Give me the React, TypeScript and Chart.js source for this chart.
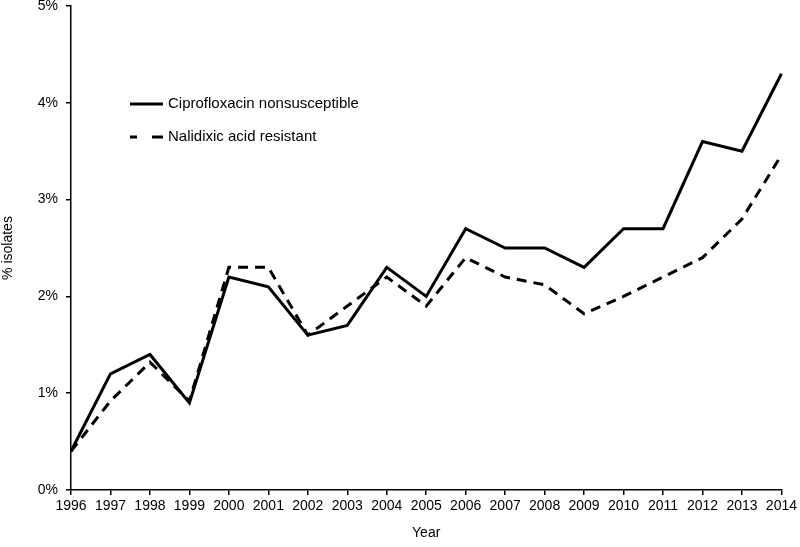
import React, { useEffect, useRef } from "react";
import { Chart, registerables } from "chart.js";

Chart.register(...registerables);

const years = ["1996","1997","1998","1999","2000","2001","2002","2003","2004","2005","2006","2007","2008","2009","2010","2011","2012","2013","2014"];
const cipro = [0.4, 1.2, 1.4, 0.9, 2.2, 2.1, 1.6, 1.7, 2.3, 2.0, 2.7, 2.5, 2.5, 2.3, 2.7, 2.7, 3.6, 3.5, 4.3];
const nalidixic = [0.4, 0.92, 1.32, 0.92, 2.3, 2.3, 1.6, 1.9, 2.2, 1.9, 2.4, 2.2, 2.12, 1.82, 2.0, 2.2, 2.4, 2.8, 3.46];
const seriesNames = ["Ciprofloxacin nonsusceptible", "Nalidixic acid resistant"];
const yTicks = [0, 1, 2, 3, 4, 5];

const FONT = "'Liberation Sans', Arial, sans-serif";

const legendPlugin = {
  id: "customLegend",
  afterDraw(chart: any) {
    const ctx = chart.ctx;
    ctx.save();
    ctx.strokeStyle = "#000";
    ctx.lineWidth = 3;
    ctx.beginPath();
    ctx.moveTo(130, 104);
    ctx.lineTo(163, 104);
    ctx.stroke();
    ctx.beginPath();
    ctx.moveTo(130, 137);
    ctx.lineTo(137, 137);
    ctx.moveTo(152, 137);
    ctx.lineTo(163, 137);
    ctx.stroke();
    ctx.fillStyle = "#000";
    ctx.font = `15px ${FONT}`;
    ctx.textBaseline = "middle";
    ctx.textAlign = "left";
    ctx.fillText(seriesNames[0], 168, 104);
    ctx.fillText(seriesNames[1], 168, 137);
    ctx.restore();
  },
};

export default function App() {
  const ref = useRef<HTMLCanvasElement | null>(null);
  useEffect(() => {
    if (!ref.current) return;
    const chart = new Chart(ref.current, {
      type: "line",
      data: {
        labels: years,
        datasets: [
          {
            label: seriesNames[0],
            data: cipro,
            borderColor: "#000",
            borderWidth: 3,
            pointRadius: 0,
            tension: 0,
            fill: false,
          },
          {
            label: seriesNames[1],
            data: nalidixic,
            borderColor: "#000",
            borderWidth: 3,
            borderDash: [10, 7],
            pointRadius: 0,
            tension: 0,
            fill: false,
          },
        ],
      },
      options: {
        responsive: false,
        animation: false,
        layout: { padding: { top: 6, right: 16, left: 0, bottom: 0 } },
        plugins: {
          legend: { display: false },
          tooltip: { enabled: false },
        },
        scales: {
          x: {
            offset: false,
            grid: { drawOnChartArea: false, drawTicks: true, tickLength: 5, color: "#000", lineWidth: 1.5 },
            border: { display: true, color: "#000", width: 1.5 },
            ticks: { color: "#000", font: { family: FONT, size: 14 }, padding: 3, maxRotation: 0, autoSkip: false },
            title: { display: true, text: "Year", color: "#000", font: { family: FONT, size: 14 }, padding: { top: 4, bottom: 5 } },
            afterFit(scale: any) { scale.height = 57; },
          },
          y: {
            min: 0,
            max: 5,
            afterBuildTicks(scale: any) { scale.ticks = yTicks.map((v) => ({ value: v })); },
            grid: { drawOnChartArea: false, drawTicks: true, tickLength: 5, color: "#000", lineWidth: 1.5 },
            border: { display: true, color: "#000", width: 1.5 },
            ticks: { color: "#000", font: { family: FONT, size: 14 }, padding: 8, callback: (v: any) => v + "%" },
            title: { display: true, text: "% isolates", color: "#000", font: { family: FONT, size: 14 }, padding: { top: 0, bottom: 4 } },
            afterFit(scale: any) { scale.width = 71; scale.paddingTop = 0; },
          },
        },
      },
      plugins: [legendPlugin],
    });
    return () => chart.destroy();
  }, []);
  return (
    <div style={{ position: "absolute", left: 0, top: 0, width: 800, height: 547, background: "#fff" }}>
      <canvas ref={ref} width={800} height={547} />
    </div>
  );
}
